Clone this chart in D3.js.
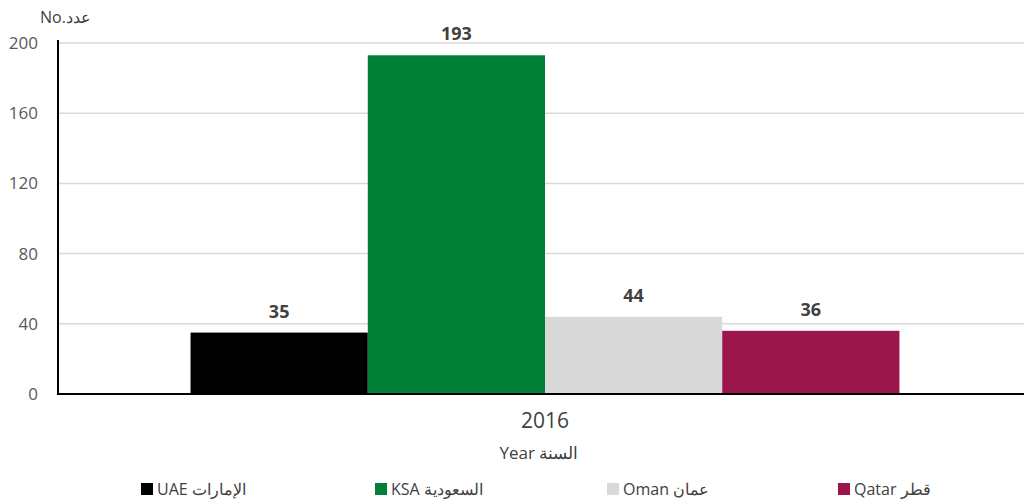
<!DOCTYPE html>
<html>
<head>
<meta charset="utf-8">
<script src="https://cdn.jsdelivr.net/npm/d3@7"></script>
<style>
  html, body { margin: 0; padding: 0; background: #fff; }
  svg { display: block; font-family: "Open Sans", "Noto Sans", sans-serif; }
</style>
</head>
<body>
<svg id="chart" width="1024" height="499"></svg>
<script>
// Number of establishments by country, 2016
const years = ["2016"];
const countries = ["UAE", "KSA", "Oman", "Qatar"];
const countryLabels = ["UAE الإمارات", "KSA السعودية", "Oman عمان", "Qatar قطر"];
const values2016 = [35, 193, 44, 36];
const colors = ["#000000", "#007f36", "#d9d9d9", "#9b174b"];
const yTicks = [0, 40, 80, 120, 160, 200];

const svg = d3.select("#chart");
const plot = { left: 58, right: 1032, top: 43, bottom: 394 };

const y = d3.scaleLinear().domain([0, 200]).range([plot.bottom, plot.top]);
const x0 = d3.scaleBand().domain(years).range([plot.left, plot.right]).paddingInner(0).paddingOuter(0.187);
const x1 = d3.scaleBand().domain(countries).range([0, x0.bandwidth()]).padding(0);
const color = d3.scaleOrdinal().domain(countries).range(colors);

// gridlines
svg.append("g")
  .selectAll("line")
  .data(yTicks.filter(d => d > 0))
  .join("line")
  .attr("x1", plot.left).attr("x2", 1024)
  .attr("y1", d => y(d)).attr("y2", d => y(d))
  .attr("stroke", "#d9d9d9").attr("stroke-width", 1.5);

// y tick labels
const yAxis = svg.append("g")
  .attr("transform", `translate(${plot.left},0)`)
  .call(d3.axisLeft(y).tickValues(yTicks).tickSize(0).tickPadding(20));
yAxis.select(".domain").remove();
yAxis.selectAll("text")
  .attr("font-size", 17).attr("fill", "#595959")
  .attr("font-family", "'Open Sans', sans-serif");

// bars
const rows = countries.map((c, i) => ({ country: c, value: values2016[i] }));
const group = svg.append("g").attr("transform", `translate(${x0("2016")},0)`);
group.selectAll("rect")
  .data(rows)
  .join("rect")
  .attr("x", d => x1(d.country))
  .attr("width", x1.bandwidth())
  .attr("y", d => y(d.value))
  .attr("height", d => y(0) - y(d.value))
  .attr("fill", d => color(d.country));

// value labels
group.selectAll("text.val")
  .data(rows)
  .join("text")
  .attr("class", "val")
  .attr("x", d => x1(d.country) + x1.bandwidth() / 2)
  .attr("y", d => y(d.value) - 15)
  .attr("text-anchor", "middle")
  .attr("font-size", 18).attr("font-weight", "bold")
  .attr("fill", "#404040")
  .text(d => d.value);

// axes lines
svg.append("line")
  .attr("x1", plot.left).attr("x2", plot.left).attr("y1", plot.top - 3).attr("y2", plot.bottom + 1)
  .attr("stroke", "#000").attr("stroke-width", 2);
svg.append("line")
  .attr("x1", plot.left - 1).attr("x2", 1024).attr("y1", plot.bottom).attr("y2", plot.bottom)
  .attr("stroke", "#000").attr("stroke-width", 2);

// category label
svg.append("text")
  .attr("x", x0("2016") + x0.bandwidth() / 2).attr("y", 428)
  .attr("text-anchor", "middle").attr("font-size", 21).attr("fill", "#404040")
  .text("2016");

// axis titles
svg.append("text")
  .attr("x", 539).attr("y", 459)
  .attr("text-anchor", "middle").attr("font-size", 17).attr("fill", "#404040")
  .attr("direction", "ltr")
  .text("Year السنة");

svg.append("text")
  .attr("x", 40).attr("y", 23)
  .attr("font-size", 16).attr("fill", "#404040")
  .attr("direction", "ltr")
  .text("No.عدد");

// legend
const legendX = [141, 375, 607, 838];
const legend = svg.append("g").selectAll("g")
  .data(countries)
  .join("g")
  .attr("transform", (d, i) => `translate(${legendX[i]},483)`);
legend.append("rect")
  .attr("width", 12).attr("height", 12)
  .attr("fill", d => color(d));
legend.append("text")
  .attr("x", 16).attr("y", 12)
  .attr("font-size", 16).attr("fill", "#404040")
  .attr("direction", "ltr")
  .text((d, i) => countryLabels[i]);
</script>
</body>
</html>
